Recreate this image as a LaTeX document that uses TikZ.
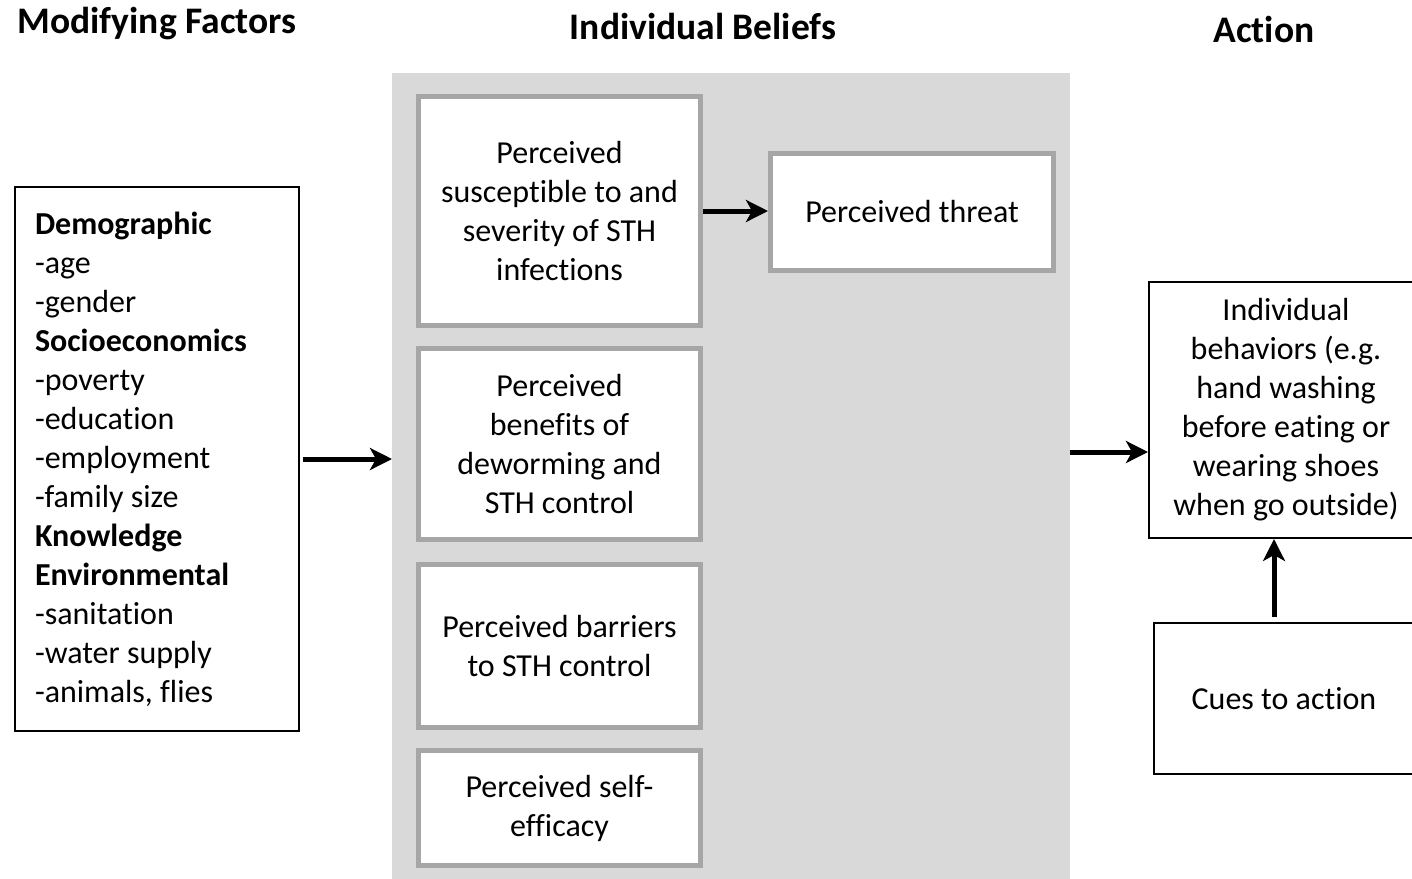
\documentclass[tikz,border=0pt]{standalone}
\usepackage{fontspec}
\setmainfont{Carlito}[Ligatures=NoCommon]
\usetikzlibrary{arrows.meta}
\definecolor{panelgray}{HTML}{D9D9D9}
\definecolor{boxgray}{HTML}{A6A6A6}
\newcommand\bodyfont{\fontsize{32}{39}\selectfont}
\newcommand\headfont{\fontsize{37.5}{44}\selectfont\bfseries}
\tikzset{
  belief/.style={draw=boxgray, line width=5pt, fill=white, align=center,
    font=\bodyfont, inner sep=0pt},
  plainbox/.style={draw=black, line width=2pt, fill=white, font=\bodyfont,
    inner sep=0pt},
  heading/.style={font=\headfont, inner sep=0pt},
  thickarrow/.style={line width=5pt,
    -{Stealth[length=22pt,width=22pt,inset=6pt]}}
}
\begin{document}
\begin{tikzpicture}[x=1pt,y=-1pt]
\useasboundingbox (0,0) rectangle (1412,878);

% column headings
\node[heading] (hmod) at (157,24) {Modifying Factors};
\node[heading] (hbel) at (703,26) {Individual Beliefs};
\node[heading] (hact) at (1264,29) {Action};

% shaded panel holding the belief boxes
\node[fill=panelgray, draw=none, minimum width=678pt, minimum height=810pt,
      inner sep=0pt, outer sep=0pt] (panel) at (731,478) {};

% modifying factors
\node[plainbox, minimum width=284pt, minimum height=544pt, text width=244pt,
      align=flush left] (mod) at (157,459)
  {\textbf{Demographic}\\-age\\-gender\\\textbf{Socioeconomics}\\-poverty\\
   -education\\-employment\\-family size\\\textbf{Knowledge}\\
   \textbf{Environmental}\\-sanitation\\-water supply\\-animals, flies};

% individual beliefs
\node[belief, minimum width=282pt, minimum height=229pt] (susc) at (559.5,211)
  {Perceived\\susceptible to and\\severity of STH\\infections};
\node[belief, minimum width=282pt, minimum height=191pt] (bene) at (559.5,444)
  {Perceived\\benefits of\\deworming and\\STH control};
\node[belief, minimum width=282pt, minimum height=163pt] (barr) at (559.5,646)
  {Perceived barriers\\to STH control};
\node[belief, minimum width=282pt, minimum height=115pt] (self) at (559.5,808)
  {Perceived self-\\efficacy};
\node[belief, minimum width=283pt, minimum height=117pt] (threat) at (912,212)
  {Perceived threat};

% action
\node[plainbox, minimum width=274pt, minimum height=256pt, align=center]
  (beh) at (1286,410)
  {Individual\\behaviors (e.g.\\hand washing\\before eating or\\wearing shoes\\when go outside)};
\node[plainbox, minimum width=260pt, minimum height=151pt, align=center]
  (cues) at (1284,698.5) {Cues to action};

% connectors
\draw[thickarrow, shorten <=3pt] (mod.east) -- (mod.east -| panel.west);
\draw[thickarrow] (susc.east) -- (susc.east -| threat.west);
\coordinate (rightin) at (1070,452);
\draw[thickarrow] (rightin) -- (rightin -| beh.west);
\draw[thickarrow, shorten <=5pt] ([xshift=-10pt]cues.north)
  -- ([xshift=-10pt]cues.north |- beh.south);
\end{tikzpicture}
\end{document}
